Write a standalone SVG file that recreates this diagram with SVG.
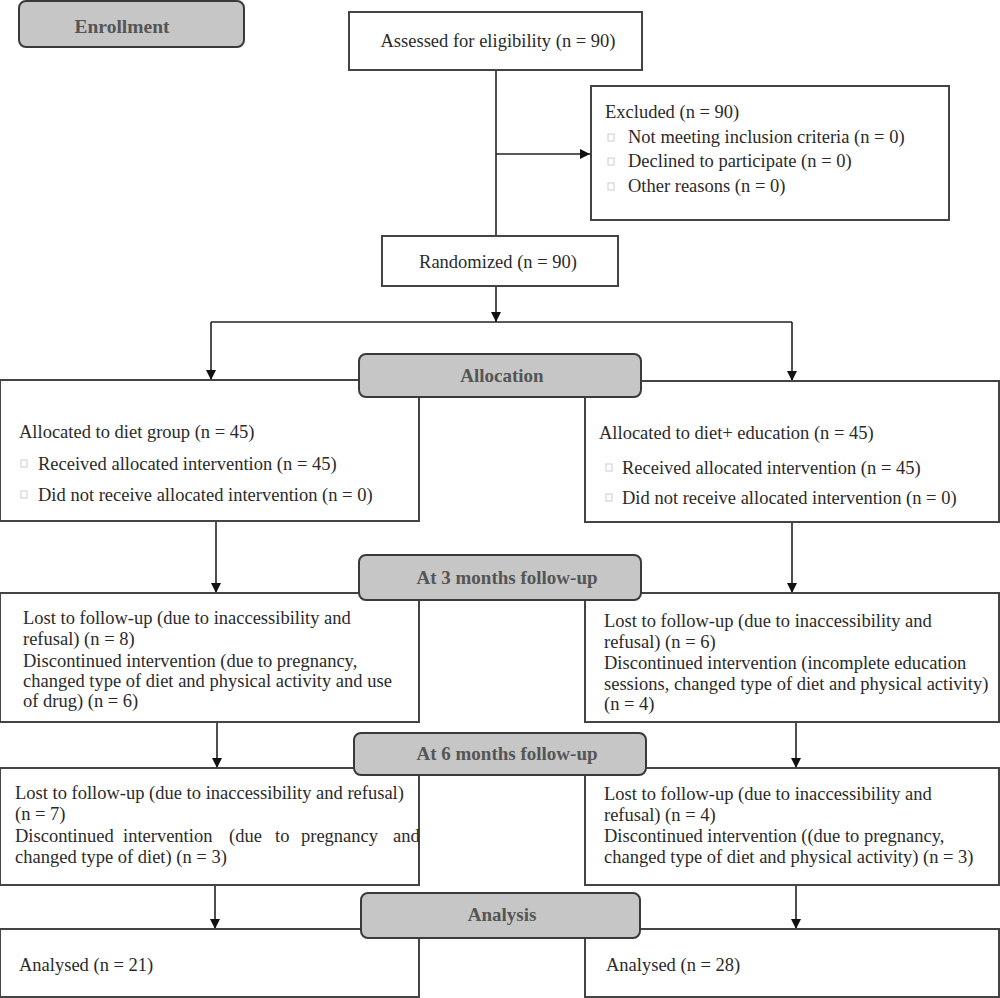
<svg xmlns="http://www.w3.org/2000/svg" width="1000" height="998" viewBox="0 0 1000 998">
<defs>
<marker id="ah" viewBox="0 0 10 10" refX="10" refY="5" markerWidth="10" markerHeight="10" markerUnits="userSpaceOnUse" orient="auto">
<path d="M0,0 L10,5 L0,10 z" fill="#111"/>
</marker>
<style>
.box{fill:#fff;stroke:#444;stroke-width:2}
.hdr{fill:#c6c6c6;stroke:#3a3a3a;stroke-width:2}
.t{font-family:"Liberation Serif",serif;font-size:18.5px;fill:#2a2a2a}
.h{font-family:"Liberation Serif",serif;font-size:19px;font-weight:bold;fill:#555;text-anchor:middle}
.c{text-anchor:middle}
.bul{fill:#fff;stroke:#ccc;stroke-width:1}
.ln{fill:none;stroke:#222;stroke-width:1.6}
</style>
</defs>
<rect width="1000" height="998" fill="#fff"/>

<g id="connectors">
<path class="ln" d="M496,70 V236"/>
<path class="ln" d="M496,154 H590" marker-end="url(#ah)"/>
<path class="ln" d="M496,286 V322" marker-end="url(#ah)"/>
<path class="ln" d="M211,322 H792"/>
<path class="ln" d="M211,322 V380" marker-end="url(#ah)"/>
<path class="ln" d="M792,322 V381" marker-end="url(#ah)"/>
<path class="ln" d="M216,521 V593" marker-end="url(#ah)"/>
<path class="ln" d="M792,522 V593" marker-end="url(#ah)"/>
<path class="ln" d="M217,722 V768" marker-end="url(#ah)"/>
<path class="ln" d="M796,715 V768" marker-end="url(#ah)"/>
<path class="ln" d="M215,885 V929" marker-end="url(#ah)"/>
<path class="ln" d="M796,885 V929" marker-end="url(#ah)"/>
</g>

<g id="enrollment">
<rect class="hdr" x="19" y="1" width="225" height="46" rx="7"/>
<text class="h" x="122" y="33" style="font-size:19.5px">Enrollment</text>
</g>

<g id="assessed">
<rect class="box" x="349" y="12" width="293" height="58"/>
<text class="t c" x="498" y="47">Assessed for eligibility (n = 90)</text>
</g>

<g id="excluded">
<rect class="box" x="591" y="86" width="358" height="134"/>
<text class="t" x="605" y="118">Excluded (n = 90)</text>
<rect class="bul" x="608" y="134" width="6" height="7"/>
<text class="t" x="628" y="143">Not meeting inclusion criteria (n = 0)</text>
<rect class="bul" x="608" y="158" width="6" height="7"/>
<text class="t" x="628" y="167">Declined to participate (n = 0)</text>
<rect class="bul" x="608" y="183" width="6" height="7"/>
<text class="t" x="628" y="192">Other reasons (n = 0)</text>
</g>

<g id="randomized">
<rect class="box" x="382" y="236" width="236" height="50"/>
<text class="t c" x="498" y="268">Randomized (n = 90)</text>
</g>

<g id="alloc-left">
<rect class="box" x="0" y="380" width="419" height="141"/>
<text class="t" x="19" y="438">Allocated to diet group (n = 45)</text>
<rect class="bul" x="21" y="460" width="6" height="7"/>
<text class="t" x="38" y="470">Received allocated intervention (n = 45)</text>
<rect class="bul" x="21" y="491" width="6" height="7"/>
<text class="t" x="38" y="501">Did not receive allocated intervention (n = 0)</text>
</g>

<g id="alloc-right">
<rect class="box" x="585" y="381" width="414" height="141"/>
<text class="t" x="599" y="439">Allocated to diet+ education (n = 45)</text>
<rect class="bul" x="606" y="464" width="6" height="7"/>
<text class="t" x="622" y="474">Received allocated intervention (n = 45)</text>
<rect class="bul" x="606" y="494" width="6" height="7"/>
<text class="t" x="622" y="504">Did not receive allocated intervention (n = 0)</text>
</g>

<g id="allocation">
<rect class="hdr" x="359" y="354" width="282" height="43" rx="7"/>
<text class="h" x="502" y="382">Allocation</text>
</g>

<g id="fu3-left">
<rect class="box" x="0" y="593" width="419" height="129"/>
<text class="t" x="23" y="624">Lost to follow-up (due to inaccessibility and</text>
<text class="t" x="23" y="645">refusal) (n = 8)</text>
<text class="t" x="23" y="667">Discontinued intervention (due to pregnancy,</text>
<text class="t" x="23" y="687">changed type of diet and physical activity and use</text>
<text class="t" x="23" y="707">of drug) (n = 6)</text>
</g>

<g id="fu3-right">
<rect class="box" x="585" y="593" width="414" height="129"/>
<text class="t" x="604" y="627">Lost to follow-up (due to inaccessibility and</text>
<text class="t" x="604" y="648">refusal) (n = 6)</text>
<text class="t" x="604" y="669">Discontinued intervention (incomplete education</text>
<text class="t" x="604" y="690">sessions, changed type of diet and physical activity)</text>
<text class="t" x="604" y="710">(n = 4)</text>
</g>

<g id="fu3">
<rect class="hdr" x="359" y="555" width="282" height="45" rx="7"/>
<text class="h" x="507" y="584">At 3 months follow-up</text>
</g>

<g id="fu6-left">
<rect class="box" x="0" y="768" width="419" height="117"/>
<text class="t" x="15" y="799">Lost to follow-up (due to inaccessibility and refusal)</text>
<text class="t" x="15" y="820">(n = 7)</text>
<text class="t" y="842"><tspan x="15">Discontinued</tspan><tspan x="123">intervention</tspan><tspan x="229">(due</tspan><tspan x="275">to</tspan><tspan x="301">pregnancy</tspan><tspan x="393">and</tspan></text>
<text class="t" x="15" y="863">changed type of diet) (n = 3)</text>
</g>

<g id="fu6-right">
<rect class="box" x="585" y="768" width="414" height="117"/>
<text class="t" x="604" y="800">Lost to follow-up (due to inaccessibility and</text>
<text class="t" x="604" y="821">refusal) (n = 4)</text>
<text class="t" x="604" y="842">Discontinued intervention ((due to pregnancy,</text>
<text class="t" x="604" y="863">changed type of diet and physical activity) (n = 3)</text>
</g>

<g id="fu6">
<rect class="hdr" x="354" y="733" width="292" height="42" rx="7"/>
<text class="h" x="507" y="760">At 6 months follow-up</text>
</g>

<g id="analysed-left">
<rect class="box" x="0" y="929" width="419" height="68"/>
<text class="t" x="19" y="971">Analysed (n = 21)</text>
</g>

<g id="analysed-right">
<rect class="box" x="585" y="929" width="414" height="68"/>
<text class="t" x="606" y="971">Analysed (n = 28)</text>
</g>

<g id="analysis">
<rect class="hdr" x="361" y="893" width="279" height="45" rx="7"/>
<text class="h" x="502" y="921">Analysis</text>
</g>
</svg>
